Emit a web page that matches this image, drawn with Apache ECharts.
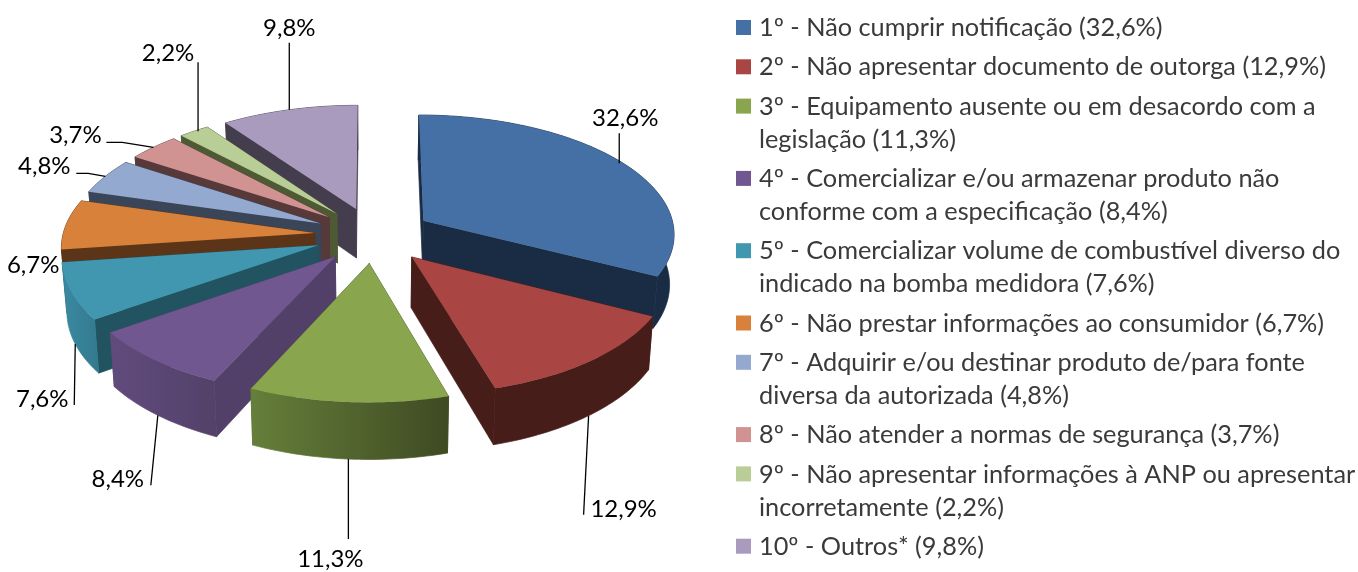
<!DOCTYPE html>
<html><head><meta charset="utf-8">
<style>html,body{margin:0;padding:0;background:#fff}#c{width:1358px;height:572px}</style>
<script src="https://cdn.jsdelivr.net/npm/echarts@6/dist/echarts.min.js"></script>
</head><body><div id="c"></div>
<script>
// ---- data ----
const values = [32.6, 12.9, 11.3, 8.4, 7.6, 6.7, 4.8, 3.7, 2.2, 9.8];
const legendLines = [
  ['1º - Não cumprir notificação (32,6%)'],
  ['2º - Não apresentar documento de outorga (12,9%)'],
  ['3º - Equipamento ausente ou em desacordo com a', 'legislação (11,3%)'],
  ['4º - Comercializar e/ou armazenar produto não', 'conforme com a especificação (8,4%)'],
  ['5º - Comercializar volume de combustível diverso do', 'indicado na bomba medidora (7,6%)'],
  ['6º - Não prestar informações ao consumidor (6,7%)'],
  ['7º - Adquirir e/ou destinar produto de/para fonte', 'diversa da autorizada (4,8%)'],
  ['8º - Não atender a normas de segurança (3,7%)'],
  ['9º - Não apresentar informações à ANP ou apresentar', 'incorretamente (2,2%)'],
  ['10º - Outros* (9,8%)']
];
// ---- styles ----
const topColors  = ['#4470a6','#a94543','#89a54e','#71578f','#4197af','#d8813a','#93a9cf','#d09392','#b9cd96','#a99bbd'];
const edgeColors = ['#1a2c44','#471d19','#4d5e2b','#534068','#215361','#5c3418','#3a4558','#57393a','#4e5a34','#443d4d'];
const rimLeft    = ['#1a2c44','#471d19','#667f3a','#614b7d','#3b8aa1','#5c3418','#3a4558','#57393a','#4e5a34','#443d4d'];
const rimRight   = ['#1a2c44','#471d19','#3e4a22','#534169','#33798e','#5c3418','#3a4558','#57393a','#4e5a34','#443d4d'];
// ---- pie projection ----
const CX = 373.6, CY = 235, RX = 252, RY = 119, PERSP = 0.1, EXPLODE = 0.234, THICK = 50, TAPER = 0.985;
// leader offsets from the slice's outer anchor, and label centre offset
const leaders = [
  {from:[-4,0],pts:[[-4,-30]], text:[2,-45]},
  {pts:[[-5,99]], text:[35,94]},
  {pts:[[0,80]], text:[-18,100]},
  {pts:[[-7,70]], text:[-40,64]},
  {pts:[[-1,61]], text:[-33,55]},
  {pts:[], text:[-33,41]},
  {pts:[[-17,-3],[-29,-3]], text:[-61,-10]},
  {pts:[[-31,-5],[-47,-5]], text:[-78,-12]},
  {from:[4,0],pts:[[4,-69]], text:[-26,-78]},
  {pts:[[0,-67]], text:[0,-82]}
];
const total = values.reduce((a,b)=>a+b,0);
let acc = 0;
const slices = values.map(v=>{
  const a0 = acc/total*Math.PI*2; acc += v;
  const a1 = acc/total*Math.PI*2;
  return {a0, a1, mid:(a0+a1)/2};
});
function proj(u,v,down){
  const s = 1/(1+PERSP*v);
  let x = CX + RX*u*s, y = CY - RY*v*s;
  if(down){ x = CX + (x-CX)*TAPER; y += THICK*s; }
  return [x,y];
}
function apex(sl){ return [EXPLODE*Math.sin(sl.mid), EXPLODE*Math.cos(sl.mid)]; }
function rim(sl,a){ const p=apex(sl); return [p[0]+Math.sin(a), p[1]+Math.cos(a)]; }
function arc(sl,down){
  const n=Math.max(4,Math.ceil((sl.a1-sl.a0)/0.02)), out=[];
  for(let i=0;i<=n;i++){ const r=rim(sl,sl.a0+(sl.a1-sl.a0)*i/n); out.push(proj(r[0],r[1],down)); }
  return out;
}
const drawOrder = values.map((_,i)=>i).sort((a,b)=>Math.cos(slices[b].mid)-Math.cos(slices[a].mid));

function poly(points,fill,stroke){ return {type:'polygon',shape:{points},style:{fill,stroke:stroke||null,lineWidth:stroke?0.7:0}}; }
function renderSlice(params){
  const i = drawOrder[params.dataIndex], sl = slices[i];
  const ap = apex(sl), aT = proj(ap[0],ap[1],false), aB = proj(ap[0],ap[1],true);
  const top = arc(sl,false), bot = arc(sl,true);
  const last = top.length-1;
  const grad = new echarts.graphic.LinearGradient(0,0,1,0,[{offset:0,color:rimLeft[i]},{offset:1,color:rimRight[i]}]);
  return {type:'group',children:[
    poly([aT,top[0],bot[0],aB],edgeColors[i],edgeColors[i]),
    poly([aT,top[last],bot[last],aB],edgeColors[i],edgeColors[i]),
    poly(top.concat(bot.slice().reverse()),grad,grad),
    poly([aT].concat(top),topColors[i])
  ]};
}
function renderLabel(params){
  const i = params.dataIndex, sl = slices[i];
  const r = rim(sl,sl.mid), front = Math.cos(sl.mid) < 0;
  const a = proj(r[0],r[1],front);
  const L = leaders[i], f = L.from || [0,0];
  const ch = [];
  if(L.pts.length) ch.push({type:'polyline',shape:{points:[[a[0]+f[0],a[1]+f[1]]].concat(L.pts.map(p=>[a[0]+p[0],a[1]+p[1]]))},
    style:{stroke:'#000',lineWidth:1.3,fill:null}});
  ch.push({type:'text',x:a[0]+L.text[0],y:a[1]+L.text[1],style:{
    text:values[i].toFixed(1).replace('.',',')+'%',fill:'#000',
    font:'24px Lato',align:'center',verticalAlign:'middle'}});
  return {type:'group',children:ch};
}
// legend, first line aligned with its swatch
const legendEls = [];
let ly = 28;
legendLines.forEach((lines,i)=>{
  legendEls.push({type:'rect',shape:{x:736,y:ly-8,width:15,height:15},style:{fill:topColors[i]}});
  lines.forEach((t,k)=>{
    legendEls.push({type:'text',x:759,y:ly+k*33,style:{text:t,fill:'#3a3a3a',font:'25.3px Lato',align:'left',verticalAlign:'middle'}});
  });
  ly += (lines.length-1)*33 + 39.3;
});
const chart = echarts.init(document.getElementById('c'),null,{renderer:'canvas'});
chart.setOption({
  animation:false,
  backgroundColor:'#fff',
  series:[
    {type:'custom',coordinateSystem:'none',silent:true,clip:false,z:2,
     data:drawOrder.map(i=>values[i]),renderItem:renderSlice},
    {type:'custom',coordinateSystem:'none',silent:true,clip:false,z:3,
     data:values,renderItem:renderLabel}
  ],
  graphic:{elements:legendEls}
});
</script></body></html>
